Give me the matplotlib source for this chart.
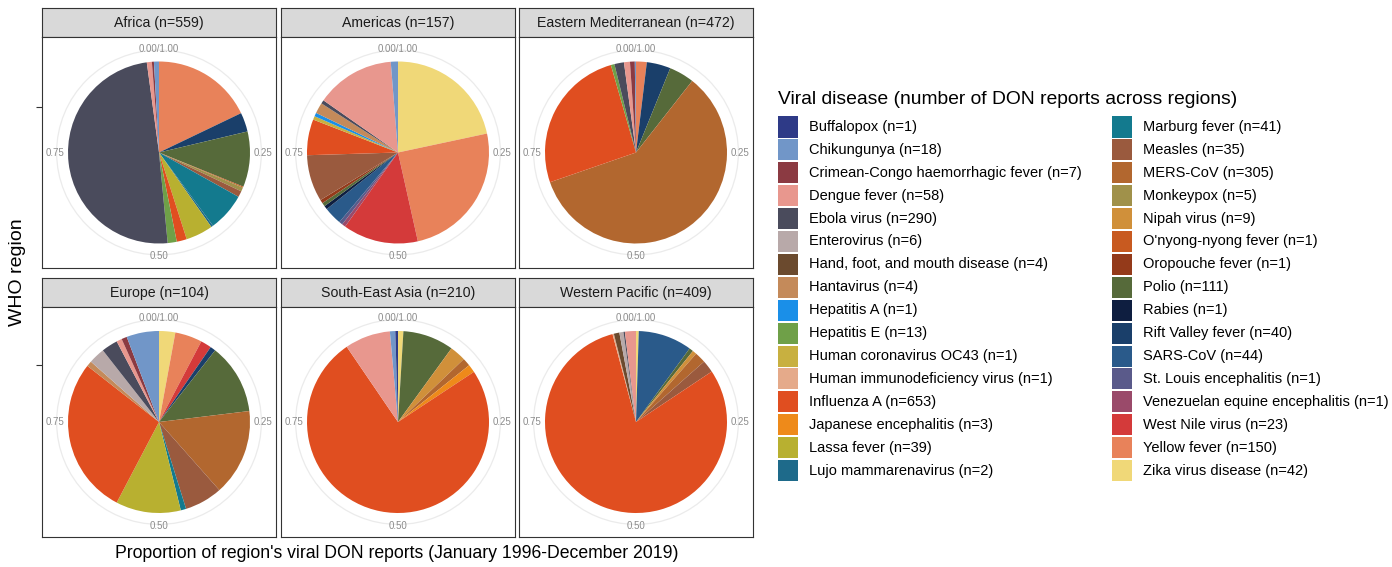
"""WHO viral DON reports by region: faceted pie charts (ggplot-like) with shared legend."""
import matplotlib.pyplot as plt
from matplotlib.patches import Circle, Rectangle

plt.rcParams['font.family'] = ['Liberation Sans', 'DejaVu Sans']

W, H = 1392, 567

diseases = [
    "Buffalopox", "Chikungunya", "Crimean-Congo haemorrhagic fever", "Dengue fever",
    "Ebola virus", "Enterovirus", "Hand, foot, and mouth disease", "Hantavirus",
    "Hepatitis A", "Hepatitis E", "Human coronavirus OC43", "Human immunodeficiency virus",
    "Influenza A", "Japanese encephalitis", "Lassa fever", "Lujo mammarenavirus",
    "Marburg fever", "Measles", "MERS-CoV", "Monkeypox", "Nipah virus",
    "O'nyong-nyong fever", "Oropouche fever", "Polio", "Rabies", "Rift Valley fever",
    "SARS-CoV", "St. Louis encephalitis", "Venezuelan equine encephalitis",
    "West Nile virus", "Yellow fever", "Zika virus disease",
]
disease_n = [1, 18, 7, 58, 290, 6, 4, 4, 1, 13, 1, 1, 653, 3, 39, 2,
             41, 35, 305, 5, 9, 1, 1, 111, 1, 40, 44, 1, 1, 23, 150, 42]
disease_colors = [
    "#2E3A87", "#7196C8", "#8B3A42", "#E8978E", "#4A4B5C", "#B8A9A9", "#6B4A2E", "#C48A5A",
    "#1A8FE8", "#6FA048", "#C8B040", "#E5AA8A", "#E04E20", "#EE8A1A", "#B8B030", "#1E6A8A",
    "#137A8E", "#9A5A3E", "#B2672F", "#A0914A", "#D0903A", "#C85A20", "#943A1A", "#566A3A",
    "#0E1E40", "#1A3F6A", "#2A5A8A", "#5A5A8A", "#9A4A6A", "#D43A3A", "#E8825A", "#F0D878",
]

regions = ["Africa", "Americas", "Eastern Mediterranean",
           "Europe", "South-East Asia", "Western Pacific"]
region_n = [559, 157, 472, 104, 210, 409]

#             Bu Ch CC De  Eb  En HF Ha HA HE OC HI Inf JE La Lu Ma Me MER Mo Ni ON Or Po Ra RV SA SL VE WN YF  Zi
africa =     [0, 5, 2, 5, 276, 0, 0, 0, 0, 9, 0, 0, 10, 0, 27, 2, 38, 6, 0, 4, 0, 1, 0, 55, 0, 19, 0, 0, 0, 0, 100, 0]
americas =   [0, 2, 0, 22, 1, 0, 0, 3, 1, 0, 1, 0, 10, 0, 0, 0, 0, 13, 0, 0, 0, 0, 1, 1, 1, 0, 5, 1, 1, 21, 39, 34]
east_med =   [0, 1, 4, 5, 8, 0, 0, 0, 0, 3, 0, 0, 122, 0, 0, 0, 0, 0, 279, 0, 0, 0, 0, 21, 0, 20, 0, 0, 0, 0, 9, 0]
europe =     [0, 6, 1, 1, 3, 3, 0, 1, 0, 0, 0, 0, 29, 0, 12, 0, 1, 7, 16, 0, 0, 0, 0, 13, 0, 1, 0, 0, 0, 2, 5, 3]
se_asia =    [1, 2, 0, 17, 0, 0, 0, 0, 0, 0, 0, 0, 157, 3, 0, 0, 0, 0, 3, 0, 6, 0, 0, 19, 0, 0, 0, 0, 0, 0, 0, 2]
west_pac =   [0, 0, 0, 8, 1, 3, 4, 0, 0, 0, 0, 1, 328, 0, 0, 0, 0, 9, 8, 0, 3, 0, 0, 3, 0, 0, 39, 0, 0, 0, 0, 2]
region_values = [africa, americas, east_med, europe, se_asia, west_pac]


def fig_box(x0, y0, x1, y1):
    """Pixel box (top-left origin) -> figure-fraction [left, bottom, width, height]."""
    return [x0 / W, 1 - y1 / H, (x1 - x0) / W, (y1 - y0) / H]


fig = plt.figure(figsize=(W / 100, H / 100), dpi=100)

col_x = [(42, 276), (281, 515), (519, 753)]
row_y = [(8, 37, 268), (278, 307, 537)]
row_tick = [0.5, 0.63]
R = 91.0  # pie radius in pixels

for i, (name, n, vals) in enumerate(zip(regions, region_n, region_values)):
    r, c = divmod(i, 3)
    x0, x1 = col_x[c]
    s0, p0, p1 = row_y[r]

    strip = fig.add_axes(fig_box(x0, s0, x1, p0))
    strip.set_facecolor("#D9D9D9")
    strip.set_xticks([]); strip.set_yticks([])
    for sp in strip.spines.values():
        sp.set_color("#333333"); sp.set_linewidth(0.8)
    strip.text(0.5, 0.5, f"{name} (n={n})", ha="center", va="center",
               fontsize=10.2, color="#1A1A1A", transform=strip.transAxes)

    ax = fig.add_axes(fig_box(x0, p0, x1, p1))
    ax.pie(vals[::-1], colors=disease_colors[::-1], startangle=90, counterclock=False,
           radius=1.0, wedgeprops=dict(linewidth=0))
    ax.add_patch(Circle((0, 0), 1.125, fill=False, ec="#EBEBEB", lw=0.9, zorder=0))
    ax.set_aspect("auto")
    hx = (x1 - x0) / 2 / R
    hy = (p1 - p0) / 2 / R
    ax.set_xlim(-hx, hx)
    ax.set_ylim(-hy, hy)
    ax.set_frame_on(True)
    for sp in ax.spines.values():
        sp.set_visible(True); sp.set_color("#333333"); sp.set_linewidth(0.8)
    ax.set_xticks([])
    if c == 0:
        ax.set_yticks([row_tick[r]])
        ax.set_yticklabels([""])
        ax.tick_params(axis="y", length=4, width=0.8, color="#333333")
    else:
        ax.set_yticks([])
    lab = dict(fontsize=7, color="#8C8C8C", ha="center", va="center")
    ax.text(0, 1.14, "0.00/1.00", **lab)
    ax.text(1.14, 0, "0.25", **lab)
    ax.text(0, -1.14, "0.50", **lab)
    ax.text(-1.14, 0, "0.75", **lab)

fig.text(18 / W, 1 - 272 / H, "WHO region", rotation=90, ha="center", va="center", fontsize=14)
fig.text(397 / W, 1 - 553 / H,
         "Proportion of region's viral DON reports (January 1996-December 2019)",
         ha="center", va="center", fontsize=12.7)

# legend
fig.text(778 / W, 1 - 100 / H, "Viral disease (number of DON reports across regions)",
         ha="left", va="center", fontsize=13.9)
row_h = 22.9
for k, (name, n, col) in enumerate(zip(diseases, disease_n, disease_colors)):
    cc, rr = divmod(k, 16)
    kx = 778 if cc == 0 else 1112
    ky = 127 + rr * row_h
    fig.patches.append(Rectangle((kx / W, 1 - (ky + 10.5) / H), 20 / W, 21 / H,
                                 transform=fig.transFigure, fc=col, ec="none", figure=fig))
    fig.text((kx + 31) / W, 1 - ky / H, f"{name} (n={n})", ha="left", va="center", fontsize=10.5)

fig.savefig("out.png", dpi=100)
